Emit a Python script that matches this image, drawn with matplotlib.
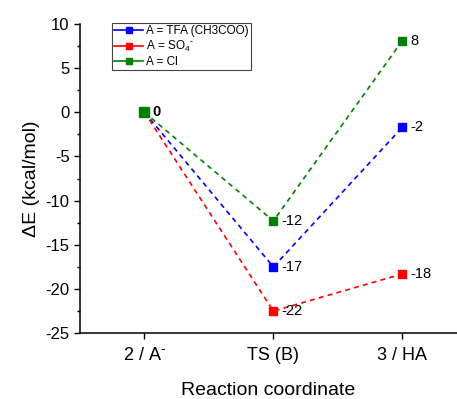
import matplotlib
matplotlib.use("Agg")
import matplotlib.pyplot as plt
from matplotlib.lines import Line2D

plt.rcParams['font.family'] = ['Liberation Sans', 'DejaVu Sans']
plt.rcParams['mathtext.default'] = 'regular'
plt.rcParams['axes.unicode_minus'] = False

# data
steps = ["2 / A$^{\\text{-}}$", "TS (B)", "3 / HA"]
tfa = [0, -17.5, -1.7]
so4 = [0, -22.5, -18.3]
cl = [0, -12.3, 8.1]
tfa_labels = ["", "-17", "-2"]
so4_labels = ["", "-22", "-18"]
cl_labels = ["", "-12", "8"]
series_names = ["A = TFA (CH3COO)", "A = SO$_4$$^{\\text{-}}$", "A = Cl"]
colors = ["#0000ff", "#ff0000", "#008000"]

fig = plt.figure(figsize=(4.57, 3.99), dpi=100)
ax = fig.add_axes([0.175, 0.165, 0.825, 0.775])

x = list(range(len(steps)))
for vals, labs, col in zip([tfa, so4, cl], [tfa_labels, so4_labels, cl_labels], colors):
    ax.plot(x, vals, color=col, linestyle=(0, (3, 2.5)), linewidth=1.2,
            marker='s', markersize=6, markeredgecolor=col, zorder=3)
    for xi, v, t in zip(x, vals, labs):
        if t:
            ax.annotate(t, (xi, v), xytext=(6, 0), textcoords='offset points',
                        ha='left', va='center', fontsize=10.5)

# shared starting point
ax.plot([0], [0], marker='s', markersize=7, color=colors[2], zorder=4)
ax.annotate("0", (0, 0), xytext=(6, 0), textcoords='offset points',
            ha='left', va='center', fontsize=10.5, fontweight='bold')

ax.set_xlim(-0.5, 2.424)
ax.set_ylim(-25, 10)
ax.set_xticks(x)
ax.set_xticklabels(steps, fontsize=13)
ax.set_yticks(range(-25, 11, 5))
ax.set_yticks([v + 2.5 for v in range(-25, 10, 5)], minor=True)
ax.tick_params(axis='y', labelsize=12)
ax.tick_params(which='major', direction='out', length=4, width=1)
ax.tick_params(which='minor', direction='out', length=2, width=1)
ax.tick_params(axis='x', pad=6)

for s in ['top', 'right']:
    ax.spines[s].set_visible(False)
for s in ['left', 'bottom']:
    ax.spines[s].set_linewidth(1.1)

ax.set_xlabel("Reaction coordinate", fontsize=14, labelpad=13)
ax.set_ylabel("ΔE (kcal/mol)", fontsize=14, labelpad=4)

handles = [Line2D([], [], color=c, linewidth=1.2, marker='s', markersize=5)
           for c in colors]
leg = ax.legend(handles, series_names, loc='upper left', bbox_to_anchor=(0.085, 1.003),
                fontsize=8.5, frameon=True, fancybox=False, framealpha=1,
                edgecolor='#444444', handlelength=2.4, handletextpad=0.3,
                labelspacing=0.15, borderpad=0.2, borderaxespad=0)
leg.get_frame().set_linewidth(0.8)

fig.savefig("out.png", dpi=100)
